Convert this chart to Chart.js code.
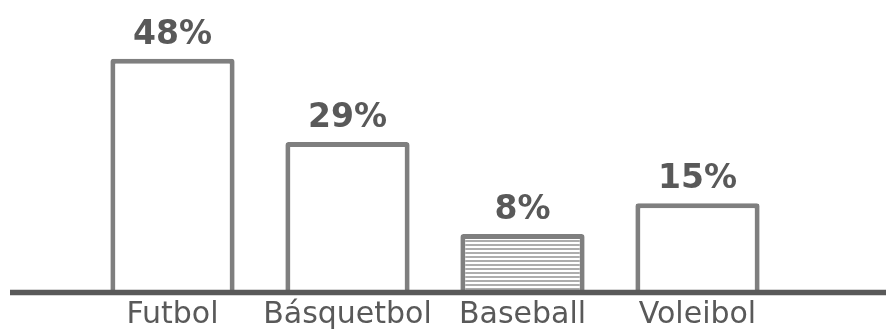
<!DOCTYPE html>
<html>
<head>
<meta charset="utf-8">
<script src="https://cdn.jsdelivr.net/npm/chart.js@4"></script>
<style>
  html, body { margin: 0; padding: 0; background: #fff; }
  #wrap { width: 886px; height: 331px; }
</style>
</head>
<body>
<div id="wrap"><canvas id="sports"></canvas></div>
<script>
const categories = ['Futbol', 'Básquetbol', 'Baseball', 'Voleibol'];
const shares = [48, 29, 8, 15];
const striped = [false, false, true, false];

const GREY = '#7f7f7f';
const DARK = '#595959';
const FONT = "'DejaVu Sans', sans-serif";

// horizontal hatching used by the highlighted bar
function stripePattern() {
  const c = document.createElement('canvas');
  c.width = 4; c.height = 4;
  const g = c.getContext('2d');
  g.fillStyle = '#ffffff';
  g.fillRect(0, 0, 4, 4);
  g.fillStyle = '#adadad';
  g.fillRect(0, 0, 4, 2);
  return g.createPattern(c, 'repeat');
}

// long baseline under the bars, running past the plot area
const baseline = {
  id: 'baseline',
  afterDatasetsDraw(chart) {
    const { ctx, width } = chart;
    const y = chart.scales.y.getPixelForValue(chart.scales.y.min) + 1.5;
    ctx.save();
    ctx.strokeStyle = DARK;
    ctx.lineWidth = 5.5;
    ctx.beginPath();
    ctx.moveTo(10, y);
    ctx.lineTo(width, y);
    ctx.stroke();
    ctx.restore();
  }
};

// percentage over each bar
const valueLabels = {
  id: 'valueLabels',
  afterDatasetsDraw(chart) {
    const { ctx } = chart;
    const meta = chart.getDatasetMeta(0);
    ctx.save();
    ctx.fillStyle = DARK;
    ctx.font = 'bold 33px ' + FONT;
    ctx.textAlign = 'center';
    ctx.textBaseline = 'alphabetic';
    meta.data.forEach((bar, i) => {
      ctx.fillText(shares[i] + '%', bar.x, bar.y - 15);
    });
    ctx.restore();
  }
};

const hatch = stripePattern();

new Chart(document.getElementById('sports'), {
  type: 'bar',
  data: {
    labels: categories,
    datasets: [{
      data: shares,
      base: -5,
      backgroundColor: striped.map(s => s ? hatch : '#ffffff'),
      borderColor: GREY,
      borderWidth: 5,
      borderRadius: 3,
      borderSkipped: 'start',
      barPercentage: 0.71,
      categoryPercentage: 1
    }]
  },
  options: {
    responsive: true,
    maintainAspectRatio: false,
    animation: false,
    layout: { padding: { top: 28, left: 85, right: 101, bottom: 0 } },
    plugins: { legend: { display: false }, tooltip: { enabled: false } },
    scales: {
      x: {
        grid: { display: false, drawTicks: false },
        border: { display: false },
        ticks: { color: DARK, padding: 9, font: { family: FONT, size: 30, lineHeight: 1 } },
        afterFit(scale) { scale.height = 40; }
      },
      y: { display: false, min: -5, max: 55 }
    }
  },
  plugins: [baseline, valueLabels]
});
</script>
</body>
</html>
